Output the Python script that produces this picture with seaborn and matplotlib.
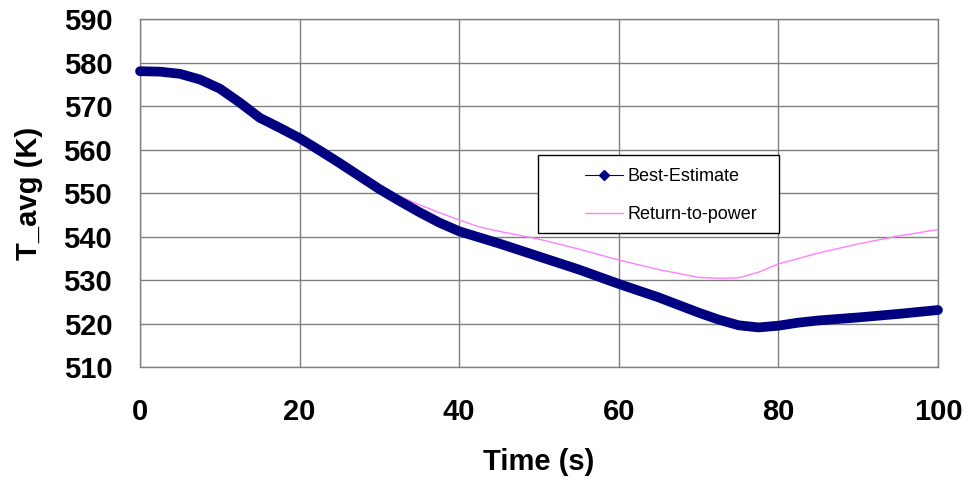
import numpy as np
import pandas as pd
import matplotlib
matplotlib.use("Agg")
import matplotlib.pyplot as plt
from matplotlib.lines import Line2D
from matplotlib.patches import Rectangle
import seaborn as sns

# Data
t_best = [0, 2.5, 5, 7.5, 10, 12.5, 15, 17.5, 20, 22.5, 25, 27.5, 30, 32.5, 35, 37.5, 40,
          42.5, 45, 50, 55, 60, 65, 70, 72.5, 75, 77.5, 80, 82.5, 85, 90, 95, 100]
T_best = [578.0, 577.9, 577.4, 576.1, 574.0, 570.8, 567.3, 565.0, 562.6, 559.8, 556.9, 553.9,
          550.9, 548.2, 545.6, 543.2, 541.2, 539.8, 538.4, 535.4, 532.4, 529.1, 526.0, 522.5,
          520.9, 519.6, 519.1, 519.5, 520.2, 520.7, 521.4, 522.2, 523.1]

t_rtp = [0, 2.5, 5, 7.5, 10, 12.5, 15, 17.5, 20, 22.5, 25, 27.5, 30, 32.5, 35, 37.5, 40,
         42.5, 45, 50, 55, 60, 65, 70, 72.5, 75, 77.5, 80, 85, 90, 95, 100]
T_rtp = [578.0, 577.9, 577.4, 576.1, 574.0, 570.8, 567.3, 565.0, 562.6, 559.8, 556.9, 554.0,
         551.6, 549.3, 547.3, 545.5, 543.8, 542.2, 541.2, 539.4, 537.1, 534.6, 532.4, 530.6,
         530.4, 530.5, 531.8, 533.7, 536.2, 538.3, 540.1, 541.6]

series_names = ["Best-Estimate", "Return-to-power"]
x_ticks = [0, 20, 40, 60, 80, 100]
y_ticks = [510, 520, 530, 540, 550, 560, 570, 580, 590]

df_best = pd.DataFrame({"t": t_best, "T": T_best})
df_rtp = pd.DataFrame({"t": t_rtp, "T": T_rtp})

sns.set_style("white")
plt.rcParams["font.family"] = ["Liberation Sans", "DejaVu Sans"]
plt.rcParams["text.color"] = "black"
plt.rcParams["axes.labelcolor"] = "black"
plt.rcParams["xtick.color"] = "#404040"
plt.rcParams["ytick.color"] = "#404040"
plt.rcParams["xtick.labelcolor"] = "black"
plt.rcParams["ytick.labelcolor"] = "black"

fig = plt.figure(figsize=(9.71, 4.84), dpi=100)
ax = fig.add_axes([0.1442, 0.2417, 0.9660 - 0.1442, 0.9607 - 0.2417])

navy = "#000080"
pink = "#FF80FF"

sns.lineplot(data=df_rtp, x="t", y="T", ax=ax, color=pink, linewidth=1.0, zorder=3)
sns.lineplot(data=df_best, x="t", y="T", ax=ax, color=navy, linewidth=7, zorder=4,
             solid_capstyle="round", solid_joinstyle="round", clip_on=False)

ax.set_xlim(0, 100)
ax.set_ylim(510, 590)
ax.set_xticks(x_ticks)
ax.set_yticks(y_ticks)
ax.grid(True, color="#808080", linewidth=1.0)
ax.set_axisbelow(True)
for s in ax.spines.values():
    s.set_color("#808080")
    s.set_linewidth(1.0)

ax.tick_params(axis="both", which="major", direction="out", length=10, width=1,
               labelsize=21)
ax.tick_params(axis="y", pad=10)
ax.tick_params(axis="x", pad=12)
for lbl in ax.get_xticklabels() + ax.get_yticklabels():
    lbl.set_fontweight("bold")

ax.set_xlabel("Time (s)", fontsize=21, fontweight="bold", labelpad=16)
ax.set_ylabel("T_avg (K)", fontsize=21, fontweight="bold", labelpad=15)

# legend frame
ax.add_patch(Rectangle((0.4987, 0.3851), 0.8008 - 0.4987, 0.6092 - 0.3851,
                       transform=ax.transAxes, facecolor="white", edgecolor="black",
                       linewidth=1.0, zorder=9))

handles = [
    Line2D([0], [0], color=navy, linewidth=0.8, marker="D", markersize=5.5,
           markerfacecolor=navy, markeredgecolor=navy),
    Line2D([0], [0], color=pink, linewidth=1.0),
]
leg = ax.legend(handles, series_names, loc="upper left", bbox_to_anchor=(0.5576, 0.572),
                fontsize=13, frameon=False, borderpad=0, labelspacing=1.16,
                handlelength=2.1, handletextpad=0.28, borderaxespad=0)
leg.set_zorder(10)

fig.savefig("out.png", dpi=100)
